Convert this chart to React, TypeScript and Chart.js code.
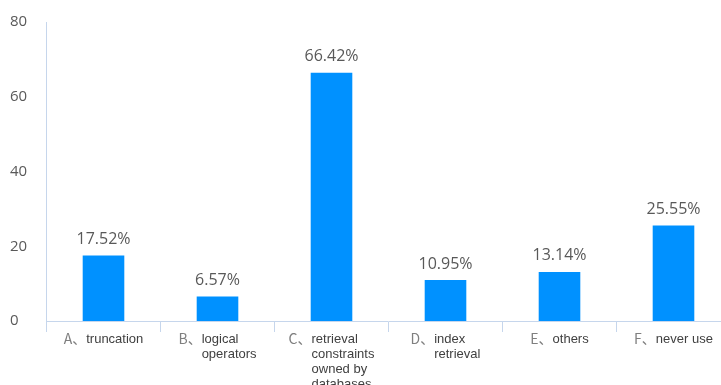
import React, { useEffect, useRef } from "react";
import { Chart, registerables } from "chart.js";

Chart.register(...registerables);

const prefixes = ["A", "B", "C", "D", "E", "F"];
const categoryLines: string[][] = [
  ["truncation"],
  ["logical", "operators"],
  ["retrieval", "constraints", "owned by", "databases"],
  ["index", "retrieval"],
  ["others"],
  ["never use"],
];
const percentages = [17.52, 6.57, 66.42, 10.95, 13.14, 25.55];
const yTicks = [0, 20, 40, 60, 80];

const AXIS_COLOR = "#c6d6ec";
const BAR_COLOR = "#0091ff";

const valueLabelPlugin = {
  id: "valueLabels",
  afterDatasetsDraw(chart: any) {
    const ctx = chart.ctx;
    const meta = chart.getDatasetMeta(0);
    ctx.save();
    ctx.font = "16px 'Open Sans'";
    ctx.fillStyle = "#595959";
    ctx.textAlign = "center";
    ctx.textBaseline = "middle";
    meta.data.forEach((bar: any, i: number) => {
      ctx.fillText(percentages[i].toFixed(2) + "%", bar.x, bar.y - 16);
    });
    ctx.restore();
  },
};

const categoryLabelPlugin = {
  id: "categoryLabels",
  afterDraw(chart: any) {
    const ctx = chart.ctx;
    const xScale = chart.scales.x;
    const top = xScale.bottom + 7;
    const lineH = 15;
    ctx.save();
    ctx.textBaseline = "middle";
    ctx.textAlign = "left";
    prefixes.forEach((p, i) => {
      const cx = xScale.getPixelForValue(i);
      const prefix = p + "、";
      ctx.font = "14px 'Noto Sans CJK SC'";
      const pw = ctx.measureText(prefix).width;
      ctx.font = "13px 'Liberation Sans'";
      let mw = 0;
      categoryLines[i].forEach((l) => {
        mw = Math.max(mw, ctx.measureText(l).width);
      });
      const left = cx - (pw + mw) / 2;
      ctx.font = "14px 'Noto Sans CJK SC'";
      ctx.fillStyle = "#7f7f7f";
      ctx.fillText(prefix, left, top);
      ctx.font = "13px 'Liberation Sans'";
      ctx.fillStyle = "#404040";
      categoryLines[i].forEach((l, j) => {
        ctx.fillText(l, left + pw, top + j * lineH);
      });
    });
    ctx.restore();
  },
};

export default function App() {
  const canvasRef = useRef<HTMLCanvasElement | null>(null);

  useEffect(() => {
    if (!canvasRef.current) return;
    const chart = new Chart(canvasRef.current, {
      type: "bar",
      data: {
        labels: prefixes.map((p, i) => p + "、" + categoryLines[i].join(" ")),
        datasets: [
          {
            data: percentages,
            backgroundColor: BAR_COLOR,
            borderWidth: 0,
            barPercentage: 0.365,
            categoryPercentage: 1,
          },
        ],
      },
      options: {
        animation: false,
        responsive: false,
        maintainAspectRatio: false,
        layout: { padding: { left: 10, right: 9.5, top: 22, bottom: 53 } },
        plugins: {
          legend: { display: false },
          tooltip: { enabled: false },
        },
        scales: {
          x: {
            offset: true,
            grid: {
              display: true,
              drawOnChartArea: false,
              drawTicks: true,
              tickLength: 11,
              color: AXIS_COLOR,
              offset: true,
            },
            border: { display: true, color: AXIS_COLOR, width: 1 },
            ticks: { display: false },
            afterFit: (scale: any) => {
              scale.height = 11;
            },
          },
          y: {
            min: yTicks[0],
            max: yTicks[yTicks.length - 1],
            afterBuildTicks: (scale: any) => {
              scale.ticks = yTicks.map((v) => ({ value: v }));
            },
            grid: { display: false },
            border: { display: true, color: AXIS_COLOR, width: 1 },
            ticks: {
              crossAlign: "far",
              color: "#595959",
              font: { family: "'Open Sans'", size: 15 },
              padding: 8,
            },
            afterFit: (scale: any) => {
              scale.width = 36.5;
            },
          },
        },
      },
      plugins: [valueLabelPlugin, categoryLabelPlugin],
    });
    return () => chart.destroy();
  }, []);

  return (
    <div style={{ position: "fixed", left: 0, top: 0, width: 740, height: 385, background: "#fff" }}>
      <canvas ref={canvasRef} width={740} height={385} style={{ width: 740, height: 385, display: "block" }} />
    </div>
  );
}
